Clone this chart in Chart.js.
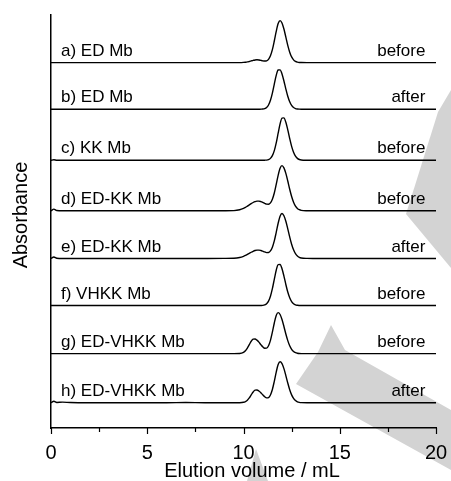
<!DOCTYPE html>
<html>
<head>
<meta charset="utf-8">
<script src="https://cdn.jsdelivr.net/npm/chart.js@4.4.1/dist/chart.umd.min.js"></script>
<style>
  html, body { margin: 0; padding: 0; background: #fff; }
  #wrap { width: 451px; height: 481px; }
</style>
</head>
<body>
<div id="wrap"><canvas id="gpcChart" width="451" height="481"></canvas></div>
<script>
// elution volume grid (mL)
var elution = [0, 0.15, 0.3, 0.6, 1, 2, 3, 4, 5, 6, 7, 8, 9, 9.5, 9.8,
  10.0, 10.1, 10.2, 10.3, 10.4, 10.5, 10.6, 10.7, 10.8, 10.9,
  11.0, 11.1, 11.2, 11.3, 11.4, 11.5, 11.6, 11.7, 11.8, 11.9,
  12.0, 12.1, 12.2, 12.3, 12.4, 12.5, 12.6, 12.7, 12.8, 12.9,
  13.0, 13.3, 13.6, 14, 15, 16, 17, 18, 19, 20];

// absorbance above each trace's own baseline
var traceA = [0, 0, 0, 0, 0, 0, 0, 0, 0, 0, 0, 0, 0, 0, 0,
  0.004, 0.008, 0.014, 0.024, 0.035, 0.046, 0.055, 0.058, 0.055, 0.046,
  0.037, 0.032, 0.037, 0.068, 0.140, 0.266, 0.445, 0.643, 0.803, 0.864,
  0.817, 0.691, 0.524, 0.355, 0.215, 0.117, 0.057, 0.025, 0.010, 0.003,
  0.001, 0, 0, 0, 0, 0, 0, 0, 0, 0];
var traceB = [0, 0, 0, 0, 0, 0, 0, 0, 0, 0, 0, 0, 0, 0, 0,
  0, 0, 0, 0, 0, 0, 0, 0, 0, 0.002,
  0.004, 0.013, 0.036, 0.088, 0.184, 0.332, 0.518, 0.697, 0.808, 0.811,
  0.726, 0.582, 0.416, 0.267, 0.153, 0.078, 0.036, 0.015, 0.006, 0.002,
  0, 0, 0, 0, 0, 0, 0, 0, 0, 0];
var traceC = [0, 0.01, 0, 0, 0, 0, 0, 0, 0, 0, 0, 0, 0, 0, 0,
  0, 0, 0, 0, 0, 0, 0, 0, 0, 0,
  0, 0.002, 0.004, 0.014, 0.039, 0.095, 0.198, 0.358, 0.558, 0.750,
  0.869, 0.873, 0.781, 0.626, 0.448, 0.287, 0.165, 0.084, 0.039, 0.016,
  0.006, 0.001, 0, 0, 0, 0, 0, 0, 0, 0];
var traceD = [0, 0.035, 0.006, 0, 0, 0, 0, 0, 0, 0, 0, 0, 0.001, 0.004, 0.022,
  0.050, 0.070, 0.095, 0.121, 0.148, 0.171, 0.189, 0.199, 0.199, 0.189,
  0.173, 0.154, 0.137, 0.136, 0.164, 0.238, 0.367, 0.543, 0.731, 0.877,
  0.930, 0.884, 0.770, 0.613, 0.444, 0.294, 0.178, 0.097, 0.049, 0.022,
  0.009, 0.001, 0, 0, 0, 0, 0, 0, 0, 0];
var traceE = [0, 0.03, 0.005, 0, 0, 0, 0, 0, 0, 0, 0, 0, 0.001, 0.004, 0.019,
  0.043, 0.061, 0.082, 0.104, 0.127, 0.147, 0.163, 0.171, 0.171, 0.163,
  0.149, 0.133, 0.120, 0.122, 0.154, 0.230, 0.360, 0.537, 0.724, 0.870,
  0.924, 0.879, 0.765, 0.609, 0.442, 0.292, 0.177, 0.097, 0.049, 0.022,
  0.009, 0.001, 0, 0, 0, 0, 0, 0, 0, 0];
var traceF = [0, 0, 0, 0, 0, 0, 0, 0, 0, 0, 0, 0, 0, 0, 0,
  0, 0, 0, 0, 0, 0, 0, 0, 0, 0.002,
  0.004, 0.014, 0.038, 0.092, 0.192, 0.347, 0.541, 0.727, 0.843, 0.846,
  0.757, 0.607, 0.434, 0.278, 0.160, 0.082, 0.038, 0.015, 0.006, 0.002,
  0, 0, 0, 0, 0, 0, 0, 0, 0, 0];
var traceG = [0, 0, 0, 0, 0, 0, 0, 0, 0, 0, 0, 0, 0, 0, 0.003,
  0.027, 0.060, 0.114, 0.185, 0.255, 0.299, 0.302, 0.278, 0.237, 0.187,
  0.142, 0.112, 0.113, 0.164, 0.274, 0.442, 0.631, 0.786, 0.844, 0.806,
  0.702, 0.559, 0.405, 0.268, 0.162, 0.089, 0.045, 0.020, 0.008, 0.003,
  0.001, 0, 0, 0, 0, 0, 0, 0, 0, 0];
var traceH = [0, 0.03, 0.006, 0.012, 0.004, 0, 0, 0, 0, 0, 0.004, 0, 0, 0, 0.001,
  0.009, 0.024, 0.052, 0.099, 0.161, 0.221, 0.260, 0.262, 0.242, 0.206,
  0.163, 0.124, 0.100, 0.106, 0.160, 0.272, 0.441, 0.631, 0.785, 0.844,
  0.806, 0.702, 0.559, 0.405, 0.268, 0.162, 0.089, 0.045, 0.020, 0.008,
  0.003, 0, 0, 0, 0, 0, 0, 0, 0, 0];

var traces = [traceA, traceB, traceC, traceD, traceE, traceF, traceG, traceH];
var sampleNames = ['a) ED Mb', 'b) ED Mb', 'c) KK Mb', 'd) ED-KK Mb', 'e) ED-KK Mb',
  'f) VHKK Mb', 'g) ED-VHKK Mb', 'h) ED-VHKK Mb'];
var sampleStates = ['before', 'after', 'before', 'before', 'after', 'before', 'before', 'after'];
// vertical stacking offset of each trace
var offsets = [7.52, 6.56, 5.51, 4.47, 3.49, 2.52, 1.53, 0.52];
var xTicks = [0, 2.5, 5, 7.5, 10, 12.5, 15, 17.5, 20];

var FONT = '"Liberation Sans", Arial, Helvetica, sans-serif';

var datasets = traces.map(function (vals, k) {
  return {
    label: sampleNames[k] + ' ' + sampleStates[k],
    data: elution.map(function (x, i) { return { x: x, y: vals[i] + offsets[k] }; }),
    borderColor: '#000',
    borderWidth: 1.4,
    pointRadius: 0,
    cubicInterpolationMode: 'monotone',
    fill: false
  };
});

// grey watermark behind the plot
var watermark = {
  id: 'watermark',
  beforeDraw: function (chart) {
    var ctx = chart.ctx;
    ctx.save();
    ctx.fillStyle = '#d3d3d3';
    ctx.beginPath();
    ctx.moveTo(451, 90); ctx.lineTo(438, 112); ctx.lineTo(406, 214); ctx.lineTo(451, 268);
    ctx.closePath(); ctx.fill();
    ctx.beginPath();
    ctx.moveTo(331, 325); ctx.lineTo(345, 350); ctx.lineTo(451, 410); ctx.lineTo(451, 470);
    ctx.lineTo(296, 384); ctx.lineTo(318, 352);
    ctx.closePath(); ctx.fill();
    ctx.beginPath();
    ctx.moveTo(247, 481); ctx.lineTo(256, 449); ctx.lineTo(268, 481);
    ctx.closePath(); ctx.fill();
    ctx.restore();
  }
};

// tick marks, trace labels and axis titles
var decorations = {
  id: 'decorations',
  afterDraw: function (chart) {
    var ctx = chart.ctx;
    var xs = chart.scales.x, ys = chart.scales.y;
    var axisY = chart.chartArea.bottom;
    ctx.save();
    ctx.strokeStyle = '#000';
    ctx.lineWidth = 1.2;
    xTicks.forEach(function (t) {
      var px = Math.round(xs.getPixelForValue(t)) + 0.5;
      var len = (t % 5 === 0) ? 6 : 4;
      ctx.beginPath();
      ctx.moveTo(px, axisY);
      ctx.lineTo(px, axisY + len);
      ctx.stroke();
    });

    ctx.fillStyle = '#000';
    ctx.font = '17px ' + FONT;
    ctx.textBaseline = 'alphabetic';
    offsets.forEach(function (off, k) {
      var py = ys.getPixelForValue(off + 0.14);
      ctx.textAlign = 'left';
      ctx.fillText(sampleNames[k], xs.getPixelForValue(0.52), py);
      ctx.textAlign = 'right';
      ctx.fillText(sampleStates[k], xs.getPixelForValue(19.45), py);
    });

    ctx.font = '20px ' + FONT;
    ctx.textAlign = 'center';
    ctx.textBaseline = 'middle';
    ctx.fillText('Elution volume / mL', 252, 471);
    ctx.translate(21, 215);
    ctx.rotate(-Math.PI / 2);
    ctx.fillText('Absorbance', 0, 0);
    ctx.restore();
  }
};

var ctx = document.getElementById('gpcChart').getContext('2d');
var chart = new Chart(ctx, {
  type: 'line',
  data: { datasets: datasets },
  options: {
    responsive: false,
    animation: false,
    devicePixelRatio: 1,
    layout: { padding: { left: 0, right: 15, top: 15, bottom: 0 } },
    plugins: {
      legend: { display: false },
      tooltip: { enabled: false }
    },
    scales: {
      x: {
        type: 'linear',
        min: 0,
        max: 20,
        afterFit: function (s) { s.height = 53; s.paddingLeft = 0; s.paddingRight = 0; },
        afterBuildTicks: function (s) { s.ticks = xTicks.map(function (v) { return { value: v }; }); },
        ticks: {
          autoSkip: false,
          maxRotation: 0,
          padding: 13,
          color: '#000',
          font: { size: 20, family: FONT },
          callback: function (v) { return v % 5 === 0 ? v : ''; }
        },
        grid: { display: true, drawOnChartArea: false, drawTicks: false },
        border: { display: true, color: '#000', width: 1.5 }
      },
      y: {
        type: 'linear',
        min: 0,
        max: 8.5,
        afterFit: function (s) { s.width = 51; s.paddingTop = 0; s.paddingBottom = 0; },
        ticks: { display: false },
        grid: { display: true, drawOnChartArea: false, drawTicks: false },
        border: { display: true, color: '#000', width: 1.5 }
      }
    }
  },
  plugins: [watermark, decorations]
});
</script>
</body>
</html>
